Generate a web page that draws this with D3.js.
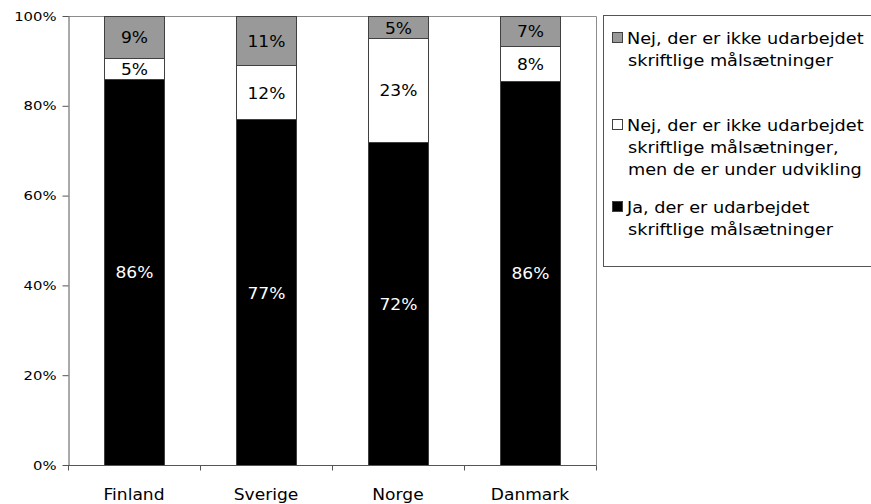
<!DOCTYPE html>
<html>
<head>
<meta charset="utf-8">
<script src="https://cdn.jsdelivr.net/npm/d3@7"></script>
<style>
  body { margin: 0; background: #fff; }
  svg { display: block; }
  text { font-family: Verdana, "DejaVu Sans", sans-serif; }
</style>
</head>
<body>
<svg id="chart" width="871" height="504"></svg>
<script>
const categories = ["Finland", "Sverige", "Norge", "Danmark"];
const seriesNames = [
  "Ja, der er udarbejdet skriftlige målsætninger",
  "Nej, der er ikke udarbejdet skriftlige målsætninger, men de er under udvikling",
  "Nej, der er ikke udarbejdet skriftlige målsætninger"
];
const jaValues = [86.0, 77.0, 72.0, 85.6];
const udviklingValues = [4.7, 12.0, 23.0, 7.7];
const nejValues = [9.3, 11.0, 5.0, 6.7];
const yTicks = [0, 20, 40, 60, 80, 100];
const legendLines = [
  ["Nej, der er ikke udarbejdet", "skriftlige målsætninger"],
  ["Nej, der er ikke udarbejdet", "skriftlige målsætninger,", "men de er under udvikling"],
  ["Ja, der er udarbejdet", "skriftlige målsætninger"]
];

(function () {
const fills = ["#000000", "#ffffff", "#999999"];
const labelColors = ["#ffffff", "#000000", "#000000"];
const SX = 1.14; // horizontal text stretch

const svg = d3.select("#chart");
const pL = 68, pR = 596, pT = 16, pB = 465;

const x = d3.scaleBand().domain(categories).range([pL, pR])
  .paddingInner(72 / 132).paddingOuter(36 / 132);
const y = d3.scaleLinear().domain([0, 100]).range([pB, pT]);

const rows = categories.map((c, i) => ({ cat: c, s0: jaValues[i], s1: udviklingValues[i], s2: nejValues[i] }));
const layers = d3.stack().keys(["s0", "s1", "s2"])(rows);

svg.append("path")
  .attr("d", `M${pL},${pT + 0.5}H${pR + 0.5}V${pB}`)
  .attr("fill", "none").attr("stroke", "#8c8c8c").attr("stroke-width", 1);

layers.forEach((layer, li) => {
  svg.append("g").selectAll("rect").data(layer).join("rect")
    .attr("x", d => x(d.data.cat) + 0.5)
    .attr("y", d => Math.round(y(d[1])) + 0.5)
    .attr("width", x.bandwidth())
    .attr("height", d => Math.round(y(d[0])) - Math.round(y(d[1])))
    .attr("fill", fills[li])
    .attr("stroke", "#404040").attr("stroke-width", 1);
});

layers.forEach((layer, li) => {
  svg.append("g").selectAll("text").data(layer).join("text")
    .attr("transform", d => `translate(${x(d.data.cat) + x.bandwidth() / 2 + 0.5},${(y(d[0]) + y(d[1])) / 2 + 1}) scale(${SX},1)`)
    .attr("text-anchor", "middle").attr("dy", "0.36em")
    .attr("font-size", 15).attr("fill", labelColors[li])
    .text(d => Math.round(d[1] - d[0]) + "%");
});

const yAxis = svg.append("g").attr("transform", `translate(${pL + 0.5},0)`)
  .call(d3.axisLeft(y).tickValues(yTicks).tickFormat(d => d + "%").tickSize(6).tickSizeOuter(0));
yAxis.select(".domain").attr("stroke", "#555");
yAxis.selectAll(".tick line").attr("stroke", "#555");
yAxis.selectAll("text").attr("font-size", 13).attr("fill", "#000")
  .attr("font-family", 'Verdana, "DejaVu Sans", sans-serif')
  .attr("x", -12 / SX).attr("transform", `scale(${SX},1)`);

const xb = d3.scaleLinear().domain([0, categories.length]).range([pL, pR]);
const xAxisG = svg.append("g").attr("transform", `translate(0,${pB + 0.5})`);
xAxisG.append("line").attr("x1", pL).attr("x2", pR + 0.5).attr("stroke", "#555");
xAxisG.selectAll("line.tk").data(d3.range(categories.length + 1)).join("line")
  .attr("class", "tk")
  .attr("x1", d => Math.round(xb(d)) + 0.5).attr("x2", d => Math.round(xb(d)) + 0.5)
  .attr("y1", 0).attr("y2", 5).attr("stroke", "#555");
xAxisG.selectAll("text").data(categories).join("text")
  .attr("transform", d => `translate(${x(d) + x.bandwidth() / 2},34) scale(${SX},1)`)
  .attr("text-anchor", "middle").attr("font-size", 15).attr("fill", "#000")
  .text(d => d);

const lg = svg.append("g");
lg.append("rect").attr("x", 603.5).attr("y", 15.5).attr("width", 270).attr("height", 251)
  .attr("fill", "#fff").attr("stroke", "#555");
const legendFills = [fills[2], fills[1], fills[0]];
const legendBase = [44, 131, 213];
legendLines.forEach((lines, i) => {
  lg.append("rect").attr("x", 612.5).attr("y", legendBase[i] - 11.5).attr("width", 10).attr("height", 10)
    .attr("fill", legendFills[i]).attr("stroke", "#404040");
  lines.forEach((ln, j) => {
    lg.append("text")
      .attr("transform", `translate(${j === 0 ? 627 : 628},${legendBase[i] + j * 22}) scale(${SX},1)`)
      .attr("font-size", 15.5).attr("fill", "#000").text(ln);
  });
});
})();
</script>
</body>
</html>
